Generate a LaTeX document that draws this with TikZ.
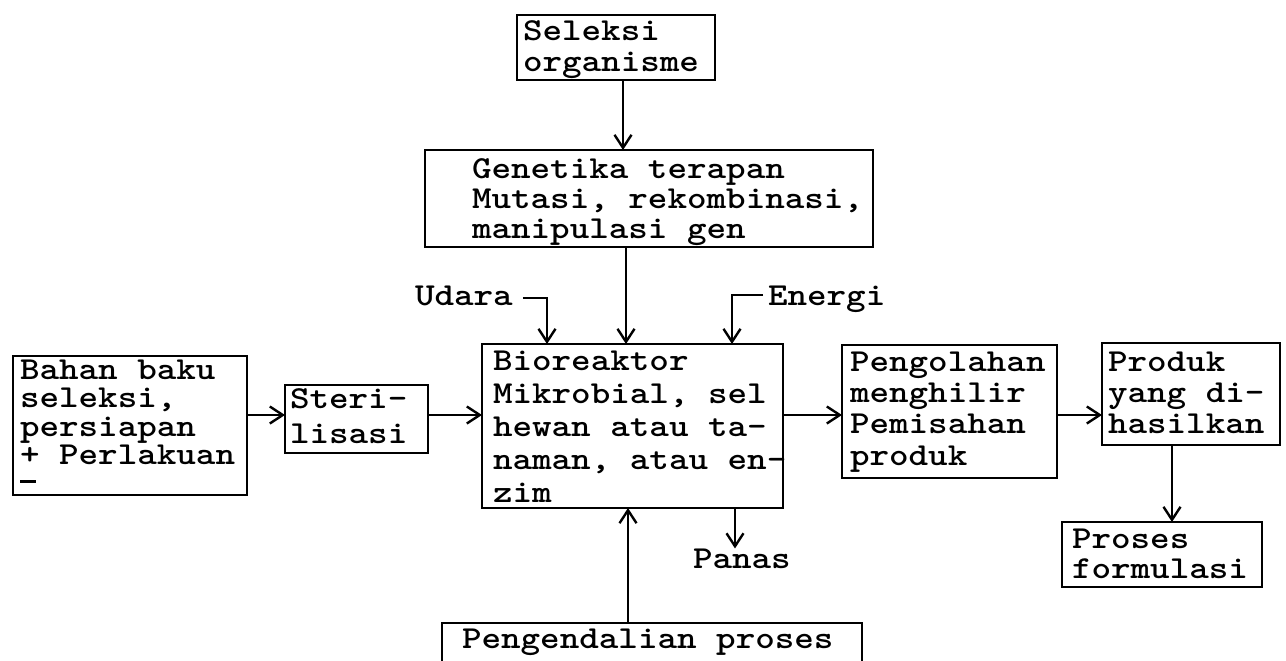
\documentclass[tikz,border=0pt]{standalone}
\usepackage{fontspec}
\usepackage{graphicx}
\usetikzlibrary{arrows.meta,calc}
\newcommand\twlines[3]{\scalebox{1.164}[1]{\parbox[t]{#1}{\fontsize{16pt}{#2}\selectfont\raggedright #3}}}
\newcommand\twone[1]{\scalebox{1.164}[1]{\fontsize{16pt}{16pt}\selectfont #1}}
\tikzset{
  box/.style={draw, line width=1.2pt, inner sep=0pt, outer sep=0pt},
  txt/.style={font=\ttfamily\bfseries, inner sep=0pt, outer sep=0pt, anchor=base west},
  arr/.style={line width=1.2pt, -{Straight Barb[length=6.5pt,width=8.5pt,line width=1.2pt]}}
}
\begin{document}
\begin{tikzpicture}[x=0.5pt,y=-0.5pt]
\useasboundingbox (0,0) rectangle (1286,660);
% boxes
\node[box, minimum width=99pt,   minimum height=32.5pt] (sel)   at (616,47.5)   {};
\node[box, minimum width=224pt,  minimum height=48.5pt] (gen)   at (649,198.5)  {};
\node[box, minimum width=150.5pt,minimum height=82pt]   (bio)   at (632.5,426)  {};
\node[box, minimum width=117pt,  minimum height=69.5pt] (bahan) at (130,425.5)  {};
\node[box, minimum width=71.5pt, minimum height=34pt]   (steri) at (356.5,419)  {};
\node[box, minimum width=107.5pt,minimum height=66.5pt] (peng)  at (949.5,411.5){};
\node[box, minimum width=89pt,   minimum height=51pt]   (prod)  at (1191,394)   {};
\node[box, minimum width=100pt,  minimum height=32.5pt] (pros)  at (1162,554.5) {};
\node[box, minimum width=210pt,  minimum height=28.5pt] (ctrl)  at (652,651.5)  {};
% texts
\node[txt] (selT)   at (523,40)   {\twlines{80pt}{15.5pt}{Seleksi\\organisme}};
\node[txt] (genT)   at (472,178)  {\twlines{172pt}{15pt}{Genetika terapan\\Mutasi, rekombinasi,\\manipulasi gen}};
\node[txt] (bioT)   at (493,370)  {\twlines{128pt}{16.5pt}{Bioreaktor\\Mikrobial, sel\\hewan atau ta-\\naman, atau en-\\zim}};
\node[txt] (bahanT) at (20,379)   {\twlines{95pt}{14.25pt}{Bahan baku\\seleksi,\\persiapan\\\leavevmode\rlap{\rule[-9pt]{7pt}{1.3pt}}+ Perlakuan}};
\node[txt] (steriT) at (290,408)  {\twlines{54pt}{17.5pt}{Steri-\\lisasi}};
\node[txt] (pengT)  at (850,371)  {\twlines{88pt}{15.7pt}{Pengolahan\\menghilir\\Pemisahan\\produk}};
\node[txt] (prodT)  at (1108,371) {\twlines{72pt}{15.5pt}{Produk\\yang di-\\hasilkan}};
\node[txt] (prosT)  at (1072,548) {\twlines{80pt}{15pt}{Proses\\formulasi}};
\node[txt] (ctrlT)  at (462,648) {\twone{Pengendalian proses}};
\node[txt] (udara)  at (415,305) {\twone{Udara}};
\node[txt] (energi) at (768,305) {\twone{Energi}};
\node[txt] (panas)  at (693,568) {\twone{Panas}};
% connectors
\draw[arr] (sel.south -| 623,0) -- (gen.north -| 623,0);
\draw[arr] (gen.south -| 626,0) -- (bio.north -| 626,0);
\draw[arr] ($(udara.base east)+(10,-7)$) -| (bio.north -| 547,0);
\draw[arr] ($(energi.base west)+(-5,-10)$) -| (bio.north -| 732,0);
\draw[arr] (ctrl.north -| 628,0) -- (bio.south -| 628,0);
\draw[arr] (bio.south -| 735,0) -- (panas.north -| 735,0);
\draw[arr] (bahan.east |- 0,415) -- (steri.west |- 0,415);
\draw[arr] (steri.east |- 0,415) -- (bio.west |- 0,415);
\draw[arr] (bio.east |- 0,415) -- (peng.west |- 0,415);
\draw[arr] (peng.east |- 0,415) -- (prod.west |- 0,415);
\draw[arr] (prod.south -| 1172,0) -- (pros.north -| 1172,0);
\end{tikzpicture}
\end{document}
